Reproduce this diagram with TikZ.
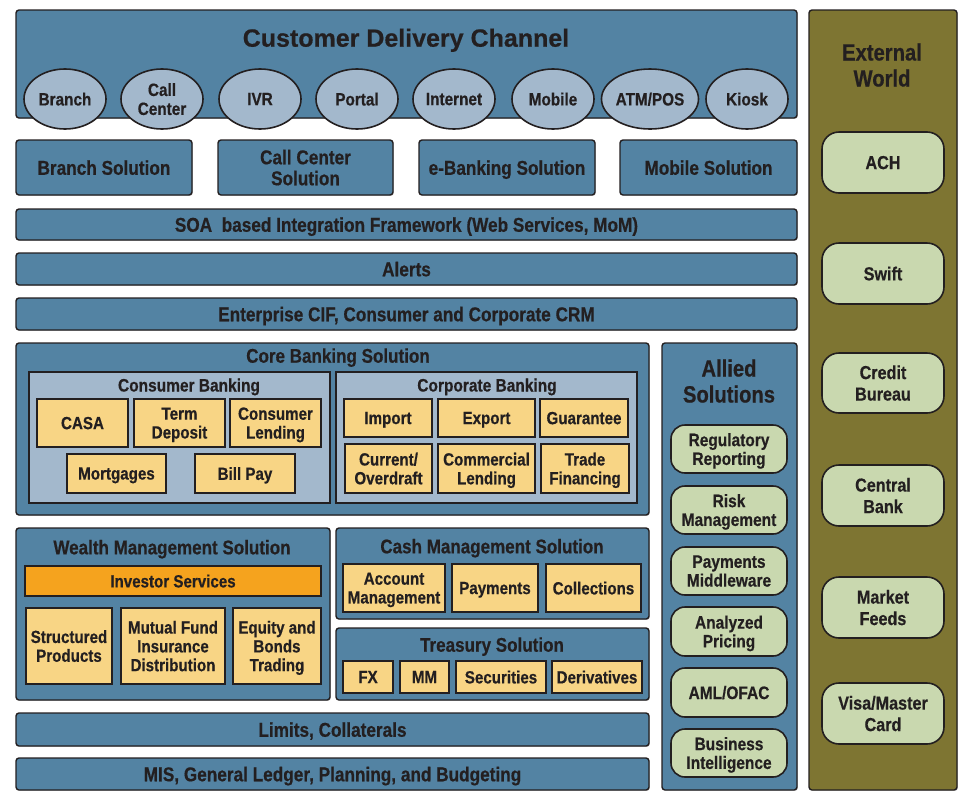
\documentclass[tikz,border=0pt]{standalone}
\usepackage{fontspec}
\setmainfont[FakeStretch=0.86, BoldFeatures={FakeBold=0.5}]{Liberation Sans}
\newfontfamily\widesans[BoldFeatures={FakeBold=0.5}]{Liberation Sans}
\usetikzlibrary{shapes.geometric,shadows}

\definecolor{ink}{HTML}{231F20}
\definecolor{panelblue}{HTML}{5383A3}
\definecolor{paleblue}{HTML}{A3B8CC}
\definecolor{itemyellow}{HTML}{F8D585}
\definecolor{itemorange}{HTML}{F5A31E}
\definecolor{itemgreen}{HTML}{C9D8AF}
\definecolor{olive}{HTML}{7E7532}

\newcommand\fsz[2]{\bfseries\fontsize{#1}{#2}\selectfont}
% box from corner (x1,y1) to corner (x2,y2): style, name, x1, y1, x2, y2, text
\newcommand\placebox[7]{\node[#1, minimum width={(#5)-(#3)}, minimum height={(#6)-(#4)}] (#2) at ({((#3)+(#5))/2},{((#4)+(#6))/2}) {#7};}

\tikzset{
  base/.style={inner sep=0pt, outer sep=0pt, text=ink, align=center, text depth=0pt},
  softshadow/.style={drop shadow={shadow xshift=0.9pt, shadow yshift=-0.9pt, fill=black!45, opacity=0.45}},
  panel/.style={base, draw=ink, fill=panelblue, line width=1.4pt, rounded corners=3pt, softshadow, font=\fsz{20}{21}},
  rowbox/.style={panel, font=\fsz{20}{21}},
  subpanel/.style={base, draw=ink, fill=paleblue, line width=1.6pt},
  item/.style={base, draw=ink, fill=itemyellow, line width=1.8pt, font=\fsz{17.6}{18.8}},
  investor/.style={item, fill=itemorange},
  channel/.style={base, ellipse, draw=ink, fill=paleblue, line width=1.6pt,
    minimum width=82pt, minimum height=60pt, font=\fsz{17.8}{19}},
  allied/.style={base, draw=ink, fill=itemgreen, line width=1.6pt, rounded corners=14pt, font=\fsz{18}{18.8}},
  extbox/.style={base, draw=ink, fill=itemgreen, line width=1.6pt, rounded corners=17pt, font=\fsz{18.8}{21.5}},
  outer/.style={base, draw=ink, fill=olive, line width=1.4pt, rounded corners=3pt, softshadow},
  heading/.style={base, anchor=base, font=\fsz{19.8}{21}},
  subheading/.style={base, anchor=base, font=\fsz{18}{20}},
  bigheading/.style={base, font=\fsz{23.5}{26}},
  maintitle/.style={base, anchor=base, font=\widesans\bfseries\fontsize{25}{28}\selectfont},
}

\begin{document}
\begin{tikzpicture}[x=1pt, y=-1pt]
\useasboundingbox (0,0) rectangle (964,801);

% ---- customer delivery channel ----
\placebox{panel}{cdc}{16}{10}{797}{118}{}
\node[maintitle] (cdcT) at (406,46.7) {Customer Delivery Channel};
\node[channel] (chBranch) at (65,99) {Branch};
\node[channel] (chCall) at (162,99) {Call\\Center};
\node[channel] (chIvr) at (260,99) {IVR};
\node[channel] (chPortal) at (357,99) {Portal};
\node[channel] (chNet) at (454,99) {Internet};
\node[channel] (chMobile) at (553,99) {Mobile};
\node[channel] (chAtm) at (650,99) {ATM/POS};
\node[channel] (chKiosk) at (747,99) {Kiosk};

% ---- channel solutions ----
\placebox{rowbox}{solBranch}{16}{140}{192}{195}{Branch Solution}
\placebox{rowbox}{solCall}{218}{140}{393}{195}{Call Center\\Solution}
\placebox{rowbox}{solEbank}{419}{140}{595}{195}{e-Banking Solution}
\placebox{rowbox}{solMobile}{620}{140}{797}{195}{Mobile Solution}

% ---- horizontal layers ----
\placebox{panel}{soa}{16}{209}{797}{240}{SOA\ \ based Integration Framework (Web Services, MoM)}
\placebox{panel}{alerts}{16}{253}{797}{285}{Alerts}
\placebox{panel}{cif}{16}{298}{797}{330}{Enterprise CIF, Consumer and Corporate CRM}

% ---- core banking ----
\placebox{panel}{core}{16}{343}{649}{515}{}
\node[heading] (coreT) at (338,362.7) {Core Banking Solution};
\placebox{subpanel}{consumer}{29}{372}{330}{503}{}
\node[subheading] (consumerT) at (189,391.5) {Consumer Banking};
\placebox{subpanel}{corporate}{336}{372}{637}{503}{}
\node[subheading] (corporateT) at (487,391.5) {Corporate Banking};

\placebox{item}{casa}{37}{399}{128}{447}{CASA}
\placebox{item}{term}{134}{399}{225}{447}{Term\\Deposit}
\placebox{item}{clend}{230}{399}{321}{447}{Consumer\\Lending}
\placebox{item}{mort}{67}{454}{166}{493}{Mortgages}
\placebox{item}{bill}{195}{454}{295}{493}{Bill Pay}

\placebox{item}{import}{344}{399}{432}{437}{Import}
\placebox{item}{export}{438}{399}{535}{437}{Export}
\placebox{item}{guar}{540}{399}{628}{437}{Guarantee}
\placebox{item}{curr}{345}{444}{432}{493}{Current/\\Overdraft}
\placebox{item}{comm}{438}{444}{535}{493}{Commercial\\Lending}
\placebox{item}{trade}{541}{444}{629}{493}{Trade\\Financing}

% ---- wealth management ----
\placebox{panel}{wealth}{16}{528}{330}{700}{}
\node[heading] (wealthT) at (172,554.3) {Wealth Management Solution};
\placebox{investor}{inv}{25}{566}{321}{596}{Investor Services}
\placebox{item}{struct}{26}{608}{112}{684}{Structured\\Products}
\placebox{item}{mutual}{121}{608}{225}{684}{Mutual Fund\\Insurance\\Distribution}
\placebox{item}{equity}{233}{608}{321}{684}{Equity and\\Bonds\\Trading}

% ---- cash management ----
\placebox{panel}{cash}{336}{528}{649}{619}{}
\node[heading] (cashT) at (492,553.3) {Cash Management Solution};
\placebox{item}{acct}{343}{564}{445}{612}{Account\\Management}
\placebox{item}{pay}{452}{564}{538}{612}{Payments}
\placebox{item}{coll}{546}{564}{641}{612}{Collections}

% ---- treasury ----
\placebox{panel}{treasury}{336}{628}{649}{700}{}
\node[heading] (treasuryT) at (492,651.7) {Treasury Solution};
\placebox{item}{fx}{343}{661}{393}{693}{FX}
\placebox{item}{mm}{400}{661}{449}{693}{MM}
\placebox{item}{sec}{456}{661}{546}{693}{Securities}
\placebox{item}{deriv}{552}{661}{642}{693}{Derivatives}

% ---- bottom layers ----
\placebox{panel}{limits}{16}{713}{649}{746}{Limits, Collaterals}
\placebox{panel}{mis}{16}{758}{649}{790}{MIS, General Ledger, Planning, and Budgeting}

% ---- allied solutions ----
\placebox{panel}{alliedP}{662}{343}{797}{790}{}
\node[bigheading] (alliedT) at (729,381) {Allied\\Solutions};
\placebox{allied}{reg}{671}{425}{787}{473}{Regulatory\\Reporting}
\placebox{allied}{risk}{671}{486}{787}{534}{Risk\\Management}
\placebox{allied}{paym}{671}{547}{787}{595}{Payments\\Middleware}
\placebox{allied}{anal}{671}{607}{787}{656}{Analyzed\\Pricing}
\placebox{allied}{aml}{671}{668}{787}{717}{AML/OFAC}
\placebox{allied}{bi}{671}{729}{787}{777}{Business\\Intelligence}

% ---- external world ----
\placebox{outer}{ext}{809}{10}{957}{790}{}
\node[bigheading] (extT) at (882,65) {External\\World};
\placebox{extbox}{ach}{822}{132}{944}{193}{ACH}
\placebox{extbox}{swift}{822}{243}{944}{304}{Swift}
\placebox{extbox}{credit}{822}{353}{944}{413}{Credit\\Bureau}
\placebox{extbox}{central}{822}{465}{944}{526}{Central\\Bank}
\placebox{extbox}{market}{822}{577}{944}{638}{Market\\Feeds}
\placebox{extbox}{visa}{822}{683}{944}{744}{Visa/Master\\Card}
\end{tikzpicture}
\end{document}
